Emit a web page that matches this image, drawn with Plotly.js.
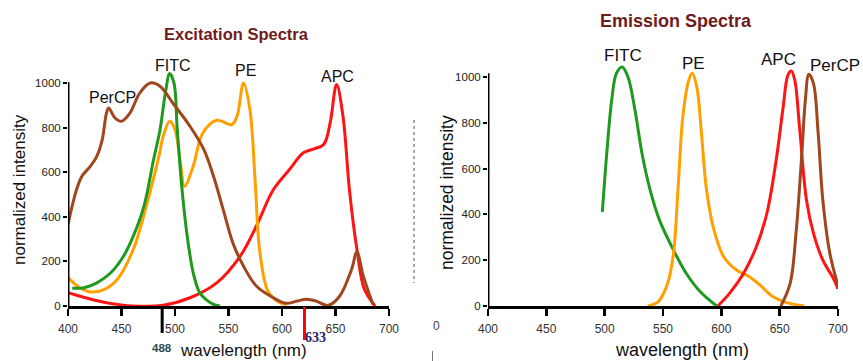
<!DOCTYPE html>
<html>
<head>
<meta charset="utf-8">
<script src="https://cdn.plot.ly/plotly-3.0.1.min.js"></script>
<style>html,body{margin:0;padding:0;background:#fff;}#chart{width:863px;height:361px;}</style>
</head>
<body>
<div id="chart"></div>
<script>
// ---------- Excitation spectra (left) ----------
const exPerCPx = [400,408,413,421,427,432,436,438,444,450,458,467,477,486,499,514,527,536,545,554,564,576,592,604,614,623,632,643,654,665,670,676,685];
const exPerCPy = [366,522,582,627,672,746,866,888,843,828,866,955,1000,985,903,806,701,582,433,284,179,90,37,12,22,30,22,3,45,164,242,134,7];

const exFITCx = [404,415,427,440,452,461,471,480,486,491,495,499,502,504,506,511,517,523,530,536,542];
const exFITCy = [80,82,104,149,224,313,448,657,790,955,1042,1000,800,672,552,328,149,60,25,7,0];

const exPEx = [400,411,421,433,446,461,474,485,489,495,500,505,509,517,526,539,553,558,564,570,575,579,586,592,598,604];
const exPEy = [127,82,63,72,119,254,463,672,761,828,791,642,537,627,776,833,813,851,1000,881,552,254,75,35,15,6];

const exAPCx = [400,418,436,461,489,514,539,561,576,592,607,620,630,639,645,651,657,663,670,677,687];
const exAPCy = [60,35,15,0,3,37,104,224,358,522,612,687,705,724,821,993,851,522,254,75,0];

// ---------- Emission spectra (right) ----------
const emFITCx = [498,502,506,510,515,520,526,532,539,547,559,570,582,596];
const emFITCy = [411,680,898,1015,1044,1000,855,666,506,375,244,142,62,0];

const emPEx = [537,546,554,559,563,567,572,575,579,583,587,593,602,613,624,633,644,656,671];
const emPEy = [0,19,99,230,520,826,985,1017,956,753,520,346,215,157,128,92,41,15,0];

const emAPCx = [597,607,619,630,639,647,653,657,660,663,667,673,679,687,696,700];
const emAPCy = [0,55,142,259,404,637,869,1007,1026,985,782,462,317,200,121,75];

const emPerCPx = [651,659,664,669,672,675,679,683,687,693,700];
const emPerCPy = [0,99,317,666,898,1012,971,753,462,230,90];

const yTicks = [0,200,400,600,800,1000];
const xTicks = [400,450,500,550,600,650,700];

const cGreen = '#1f9a1f', cOrange = '#ffa000', cRed = '#ff1414', cBrown = '#a0461c';
const FONT = 'Liberation Sans, Arial, sans-serif';

function tr(x, y, color, xa, ya) {
  return {x: x, y: y, type: 'scatter', mode: 'lines', xaxis: xa, yaxis: ya,
          line: {color: color, width: 3, shape: 'spline', smoothing: 1}, hoverinfo: 'skip'};
}

const data = [
  tr(exAPCx, exAPCy, cRed, 'x', 'y'),
  tr(exPEx, exPEy, cOrange, 'x', 'y'),
  tr(exFITCx, exFITCy, cGreen, 'x', 'y'),
  tr(exPerCPx, exPerCPy, cBrown, 'x', 'y'),
  tr(emFITCx, emFITCy, cGreen, 'x2', 'y2'),
  tr(emPEx, emPEy, cOrange, 'x2', 'y2'),
  tr(emAPCx, emAPCy, cRed, 'x2', 'y2'),
  tr(emPerCPx, emPerCPy, cBrown, 'x2', 'y2')
];

const W = 863, H = 361;
const px = v => v / W, py = v => 1 - v / H;

function xax(domain, anchor) {
  return {domain: domain, anchor: anchor, range: [400, 700], tickvals: xTicks,
          showgrid: false, zeroline: false, showline: true, linewidth: 3, linecolor: '#000',
          ticks: 'outside', ticklen: 7, tickwidth: 2.5, tickcolor: '#000',
          tickfont: {family: FONT, size: 12, color: '#333'}, ticklabelstandoff: 3, fixedrange: true};
}
function yax(domain, anchor) {
  return {domain: domain, anchor: anchor, range: [0, 1060], tickvals: yTicks,
          showgrid: false, zeroline: false, showline: false,
          ticks: 'outside', ticklen: 4, tickwidth: 2, tickcolor: '#000',
          tickfont: {family: FONT, size: 11.5, color: '#222'}, ticklabelstandoff: 0, fixedrange: true};
}

function ann(text, x, y, size, opts) {
  return Object.assign({text: text, x: px(x), y: py(y), xref: 'paper', yref: 'paper',
    showarrow: false, xanchor: 'center', yanchor: 'middle',
    font: {family: FONT, size: size, color: '#111'}}, opts || {});
}

const layout = {
  width: W, height: H,
  margin: {l: 0, r: 0, t: 0, b: 0},
  paper_bgcolor: '#fff', plot_bgcolor: 'rgba(0,0,0,0)',
  showlegend: false,
  xaxis: xax([68 / W, 389 / W], 'y'),
  yaxis: yax([py(306), py(69.6)], 'x'),
  xaxis2: xax([488 / W, 838 / W], 'y2'),
  yaxis2: yax([py(306), py(63.3)], 'x2'),
  shapes: [
    {type: 'line', xref: 'x', yref: 'y', x0: 400, x1: 400, y0: 0, y1: 1004, line: {color: '#000', width: 3}},
    {type: 'line', xref: 'x2', yref: 'y2', x0: 400, x1: 400, y0: 0, y1: 1017, line: {color: '#000', width: 3}},
    {type: 'line', xref: 'x', yref: 'paper', x0: 488, x1: 488, y0: py(307), y1: py(333), line: {color: '#000', width: 3}},
    {type: 'line', xref: 'x', yref: 'paper', x0: 621, x1: 621, y0: py(307), y1: py(340), line: {color: '#ff0000', width: 3}},
    {type: 'line', xref: 'paper', yref: 'paper', x0: px(414), x1: px(414), y0: py(120), y1: py(283), line: {color: '#555', width: 1, dash: 'dot'}},
    {type: 'line', xref: 'paper', yref: 'paper', x0: px(432.5), x1: px(432.5), y0: py(351), y1: py(361), line: {color: '#777', width: 1}}
  ],
  annotations: [
    ann('<b>Excitation Spectra</b>', 236, 34, 16.5, {font: {family: FONT, size: 16.5, color: '#6e1c1c'}}),
    ann('<b>Emission Spectra</b>', 676, 21, 18, {font: {family: FONT, size: 18, color: '#6e1c1c'}}),
    ann('normalized intensity', 19, 190, 17, {textangle: -90, font: {family: FONT, size: 17, color: '#111'}}),
    ann('normalized intensity', 447, 193, 17.5, {textangle: -90, font: {family: FONT, size: 17.5, color: '#111'}}),
    ann('wavelength (nm)', 243, 350, 17),
    ann('wavelength (nm)', 682, 350, 18),
    ann('PerCP', 113, 97, 16),
    ann('FITC', 173, 65, 16),
    ann('PE', 245.5, 70, 16),
    ann('APC', 337, 77, 16),
    ann('FITC', 623, 56, 17),
    ann('PE', 693.5, 64, 17),
    ann('APC', 778, 60, 17),
    ann('PerCP', 834.5, 65, 17),
    ann('<b>488</b>', 161.5, 348, 11.5, {font: {family: FONT, size: 11.5, color: '#2c4a4a'}}),
    ann('<b>633</b>', 315, 337, 14, {font: {family: 'Liberation Serif, Times New Roman, serif', size: 14, color: '#2b1b6b'}}),
    ann('0', 437, 326, 12, {font: {family: FONT, size: 12, color: '#444'}})
  ]
};

Plotly.newPlot('chart', data, layout, {displayModeBar: false, staticPlot: true});
</script>
</body>
</html>
